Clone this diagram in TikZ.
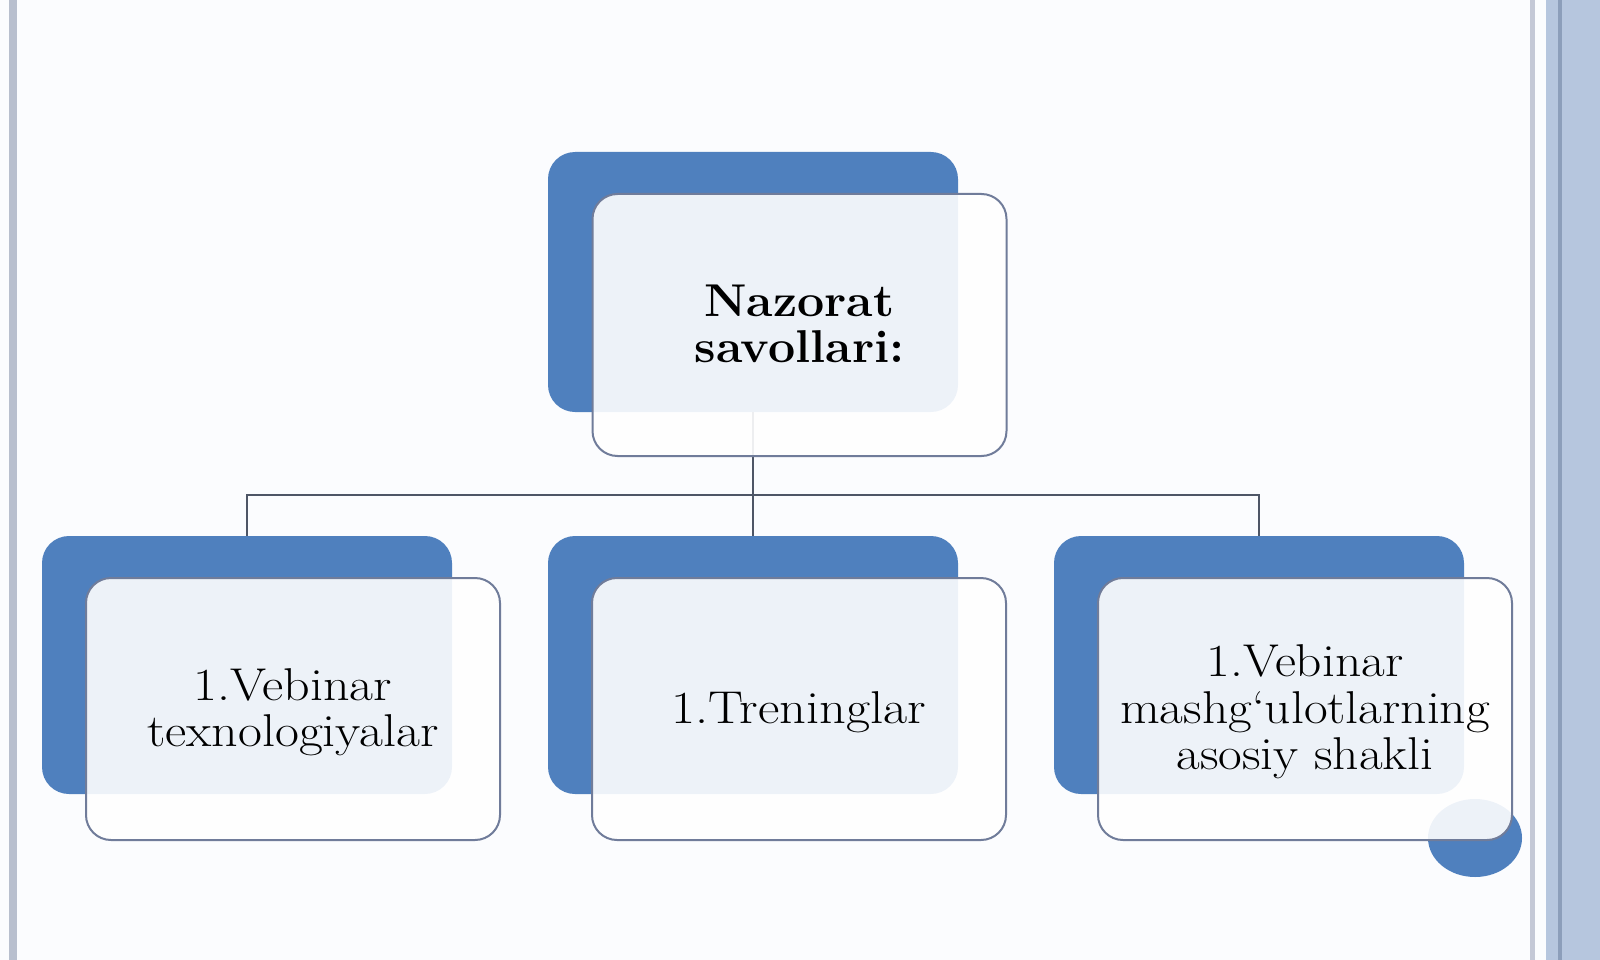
\documentclass[tikz,border=0pt]{standalone}
\usepackage{fontspec}
\usepackage{graphicx}
\definecolor{boxblue}{RGB}{79,128,190}
\definecolor{edgecol}{RGB}{112,124,154}
\definecolor{linecol}{RGB}{78,86,102}
\definecolor{bgcol}{RGB}{251,252,254}
\definecolor{leftline}{RGB}{184,191,206}
\definecolor{thinline}{RGB}{196,200,214}
\definecolor{strip}{RGB}{182,198,222}
\definecolor{stripdark}{RGB}{140,158,186}
\newcommand{\widetext}[2]{\raisebox{0pt}[\dimexpr\height+10pt\relax][\depth]{\scalebox{#1}[1]{\begin{tabular}{@{}c@{}}#2\end{tabular}}}}
\begin{document}
\begin{tikzpicture}[x=1pt,y=-1pt,
  backbox/.style={fill=boxblue, draw=none, rounded corners=27pt,
    minimum width=410pt, minimum height=258pt, inner sep=0pt},
  frontbox/.style={fill=white, fill opacity=0.9, text opacity=1,
    draw=edgecol, line width=2pt, rounded corners=25pt,
    minimum width=414pt, minimum height=262pt, inner sep=0pt,
    align=center, font=\fontsize{46}{46.5}\selectfont},
  headbox/.style={frontbox, font=\fontsize{46}{46.5}\selectfont\bfseries},
  link/.style={draw=linecol, line width=2.5pt}]
\useasboundingbox (0,0) rectangle (1600,960);
\fill[bgcol] (0,0) rectangle (1600,960);
% page decoration
\fill[leftline] (9,0) rectangle (17,960);
\fill[thinline] (1530,0) rectangle (1535,960);
\fill[strip] (1546,0) rectangle (1600,960);
\fill[stripdark] (1558,0) rectangle (1562,960);
% back boxes
\node[backbox, minimum height=260pt] (tb) at (753,282) {};
\node[backbox] (lb) at (247,665) {};
\node[backbox] (mb) at (753,665) {};
\node[backbox] (rb) at (1259,665) {};
% decorative ellipse
\fill[boxblue] (1475,838) ellipse [x radius=47pt, y radius=39pt];
% connectors
\coordinate (bus) at (753,495);
\draw[link] (tb.south) -- (bus);
\draw[link] (lb.north) |- (bus) -| (rb.north);
\draw[link] (bus) -- (mb.north);
% front boxes
\node[headbox] (tf) at (799.5,325) {\widetext{1.05}{Nazorat\\savollari:}};
\node[frontbox] (lf) at (293,709) {\widetext{1.13}{1.Vebinar\\texnologiyalar}};
\node[frontbox] (mf) at (799,709) {\widetext{1.14}{1.Treninglar}};
\node[frontbox] (rf) at (1305,709) {\widetext{1.12}{1.Vebinar\\mashg‘ulotlarning\\asosiy shakli}};
\end{tikzpicture}
\end{document}
